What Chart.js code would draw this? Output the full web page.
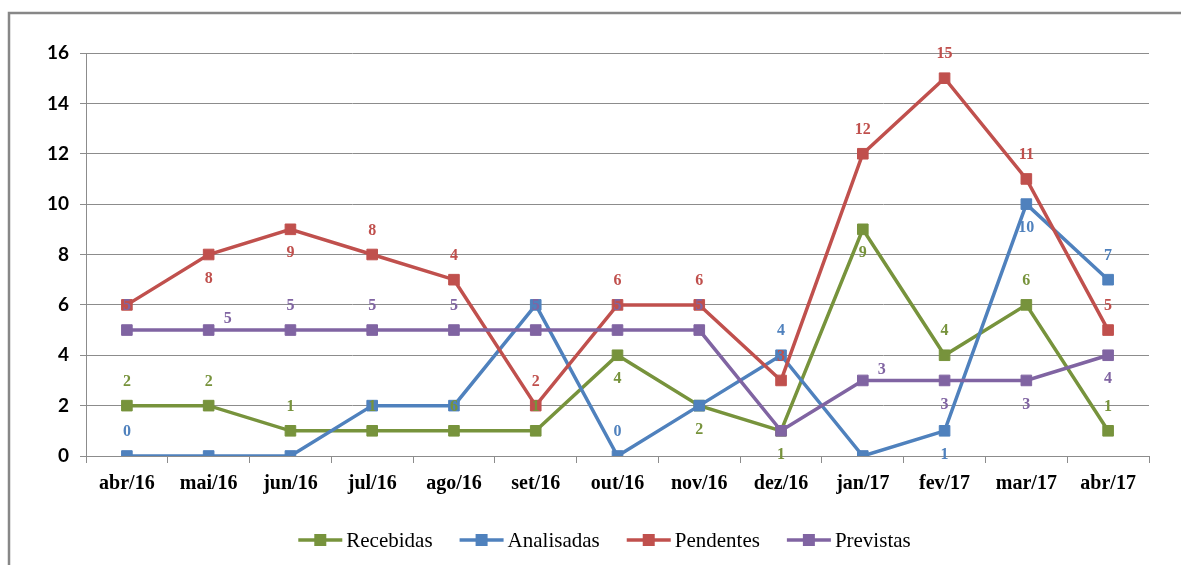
<!DOCTYPE html>
<html>
<head>
<meta charset="utf-8">
<script src="https://cdn.jsdelivr.net/npm/chart.js@4/dist/chart.umd.min.js"></script>
<style>
  html, body { margin: 0; padding: 0; background: #fff; }
  #wrap { width: 1181px; height: 565px; position: relative; }
</style>
</head>
<body>
<div id="wrap"><canvas id="chart" width="1181" height="565"></canvas></div>
<script>
// categorias (meses)
const months = ['abr/16', 'mai/16', 'jun/16', 'jul/16', 'ago/16', 'set/16', 'out/16',
                'nov/16', 'dez/16', 'jan/17', 'fev/17', 'mar/17', 'abr/17'];

// valores das séries
const recebidas  = [2, 2, 1, 1, 1, 1, 4, 2, 1, 9, 4, 6, 1];
const analisadas = [0, 0, 0, 2, 2, 6, 0, 2, 4, 0, 1, 10, 7];
const pendentes  = [6, 8, 9, 8, 7, 2, 6, 6, 3, 12, 15, 11, 5];
const previstas  = [5, 5, 5, 5, 5, 5, 5, 5, 1, 3, 3, 3, 4];

// rótulos de dados tal como aparecem no gráfico (null = sem rótulo)
const recebidasLbl  = ['2', '2', '1', '1', '6', '1', '4', '2', '1', '9', '4', '6', '1'];
const analisadasLbl = ['0', null, null, null, null, null, '0', null, '4', null, '1', '10', '7'];
const pendentesLbl  = [null, '8', '9', '8', '4', '2', '6', '6', '3', '12', '15', '11', '5'];
const previstasLbl  = ['5', '5', '5', '5', '5', '5', '5', '5', null, '3', '3', '3', '4'];

// posição de cada rótulo em relação ao ponto
const recebidasPos  = ['t', 't', 't', 't', 't', 't', 'b', 'b', 'b', 'b', 't', 't', 't'];
const analisadasPos = ['t', 't', 't', 't', 't', 't', 't', 't', 't', 't', 'b', 'b', 't'];
const pendentesPos  = ['t', 'b', 'b', 't', 't', 't', 't', 't', 't', 't', 't', 't', 't'];
const previstasPos  = ['t', 'r', 't', 't', 't', 't', 't', 't', 't', 'r', 'b', 'b', 'b'];

const yTicks = [0, 2, 4, 6, 8, 10, 12, 14, 16];

const GREEN = '#77933C', BLUE = '#4F81BD', RED = '#C0504D', PURPLE = '#8064A2';

function serie(label, data, color, order, lbls, pos) {
  return {
    label, data, order,
    borderColor: color, backgroundColor: color,
    borderWidth: 3.5,
    pointStyle: 'rect', pointRadius: 7.5, pointHoverRadius: 7.5,
    pointBorderWidth: 1, pointBorderColor: color, pointBackgroundColor: color,
    tension: 0,
    lbls, pos
  };
}

// borda externa + rótulos de dados + legenda estilo Excel
const excelLook = {
  id: 'excelLook',
  beforeDraw(chart) {
    const ctx = chart.ctx;
    ctx.save();
    ctx.fillStyle = '#fff';
    ctx.fillRect(0, 0, chart.width, chart.height);
    ctx.strokeStyle = '#878787';
    ctx.lineWidth = 2.5;
    ctx.beginPath();
    ctx.moveTo(9, chart.height + 2);
    ctx.lineTo(9, 13);
    ctx.lineTo(chart.width + 2, 13);
    ctx.stroke();
    ctx.restore();
  },
  afterDatasetsDraw(chart) {
    const ctx = chart.ctx;
    ctx.save();
    ctx.font = 'bold 16px "Liberation Serif", "Times New Roman", serif';
    ctx.textAlign = 'center';
    ctx.textBaseline = 'middle';
    chart.data.datasets.forEach((ds, di) => {
      const meta = chart.getDatasetMeta(di);
      ctx.fillStyle = ds.borderColor;
      meta.data.forEach((pt, i) => {
        const txt = ds.lbls[i];
        if (txt == null) return;
        let dx = 0, dy = -24;
        if (ds.pos[i] === 'b') dy = 24;
        if (ds.pos[i] === 'r') { dx = 19; dy = -11; }
        ctx.fillText(txt, pt.x + dx, pt.y + dy);
      });
    });

    // legenda
    ctx.font = '21px "Liberation Serif", "Times New Roman", serif';
    ctx.textAlign = 'left';
    const lineW = 44, gapTxt = 4, gapItem = 27;
    const items = chart.data.datasets.map(ds => ({ name: ds.label, color: ds.borderColor, w: ctx.measureText(ds.label).width }));
    const total = items.reduce((s, it) => s + lineW + gapTxt + it.w, 0) + gapItem * (items.length - 1);
    let x = chart.width / 2 + 14 - total / 2;
    const y = 540;
    items.forEach(it => {
      ctx.strokeStyle = it.color;
      ctx.lineWidth = 3.5;
      ctx.beginPath();
      ctx.moveTo(x, y);
      ctx.lineTo(x + lineW, y);
      ctx.stroke();
      ctx.fillStyle = it.color;
      ctx.fillRect(x + lineW / 2 - 6, y - 6, 12, 12);
      ctx.fillStyle = '#000';
      ctx.fillText(it.name, x + lineW + gapTxt, y + 1);
      x += lineW + gapTxt + it.w + gapItem;
    });
    ctx.restore();
  }
};

new Chart(document.getElementById('chart'), {
  type: 'line',
  data: {
    labels: months,
    datasets: [
      serie('Recebidas', recebidas, GREEN, 4, recebidasLbl, recebidasPos),
      serie('Analisadas', analisadas, BLUE, 3, analisadasLbl, analisadasPos),
      serie('Pendentes', pendentes, RED, 2, pendentesLbl, pendentesPos),
      serie('Previstas', previstas, PURPLE, 1, previstasLbl, previstasPos)
    ]
  },
  options: {
    responsive: false,
    animation: false,
    events: [],
    layout: { padding: { top: 53, right: 32, left: 0, bottom: 0 } },
    plugins: {
      legend: { display: false },
      tooltip: { enabled: false }
    },
    scales: {
      x: {
        offset: true,
        grid: { offset: true, drawOnChartArea: false, drawTicks: true, tickLength: 7, color: '#8c8c8c' },
        border: { color: '#8c8c8c', width: 1 },
        ticks: {
          color: '#000', padding: 9, maxRotation: 0, autoSkip: false,
          font: { family: '"Liberation Serif", "Times New Roman", serif', size: 20, weight: 'bold' }
        },
        afterFit(scale) { scale.height = 109; }
      },
      y: {
        min: 0, max: 16,
        afterBuildTicks(scale) { scale.ticks = yTicks.map(v => ({ value: v })); },
        grid: { color: '#8c8c8c', lineWidth: 1, tickLength: 6 },
        border: { color: '#8c8c8c', width: 1 },
        ticks: {
          color: '#000', padding: 11,
          font: { family: 'Lato, "Liberation Sans", sans-serif', size: 19, weight: 'bold' }
        },
        afterFit(scale) { scale.width = 86; }
      }
    }
  },
  plugins: [excelLook]
});
</script>
</body>
</html>
